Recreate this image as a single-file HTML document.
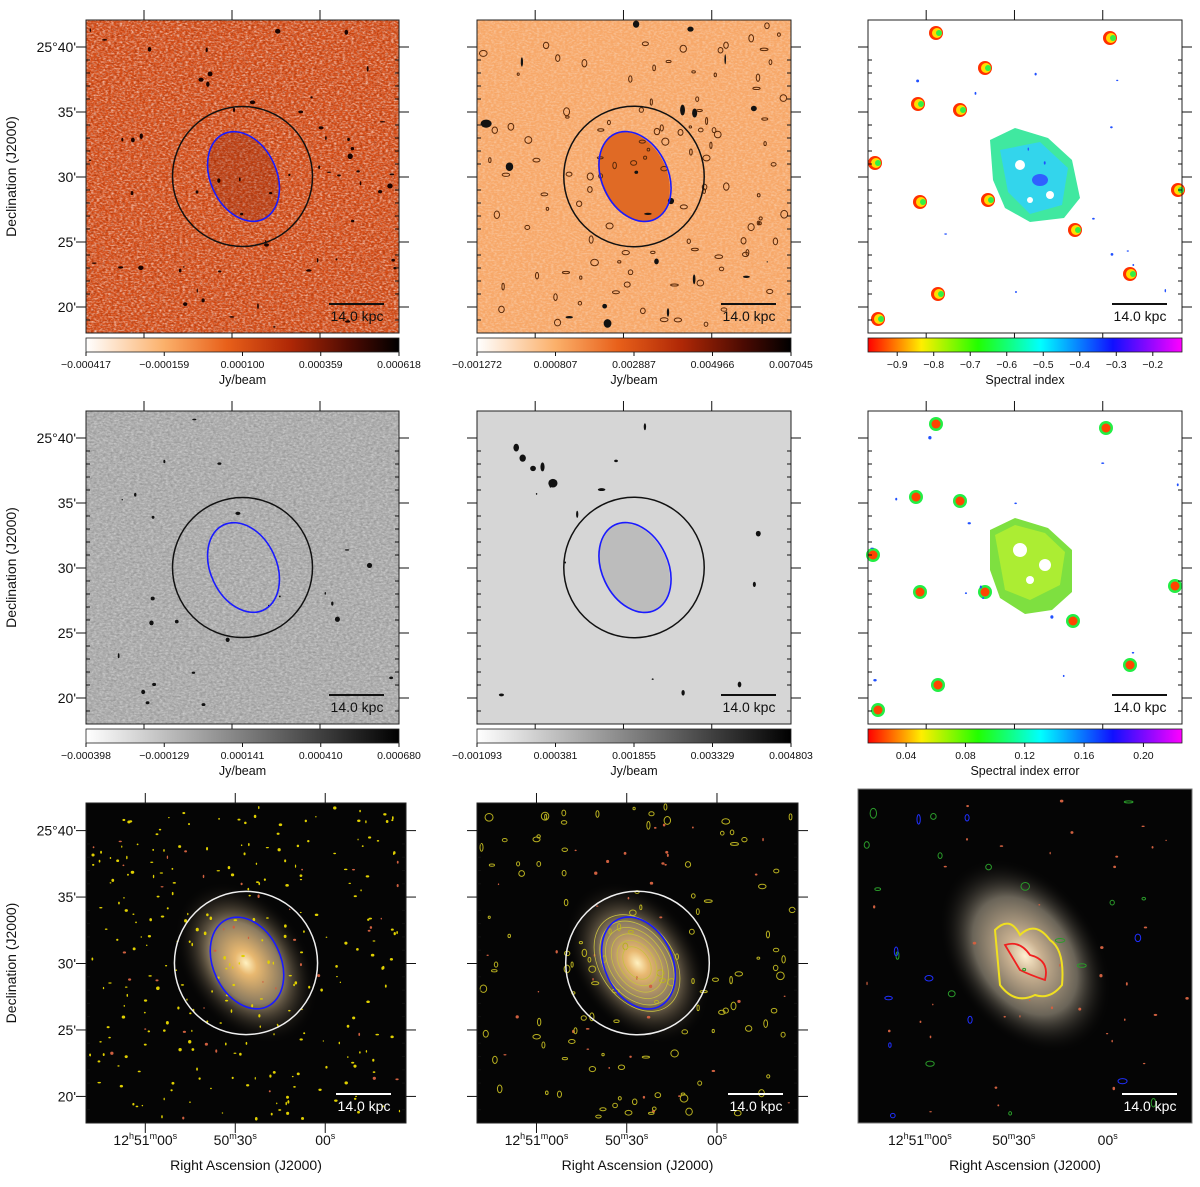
<!DOCTYPE html>
<html><head><meta charset="utf-8"><style>
body{margin:0;background:#fff;width:1200px;height:1182px;overflow:hidden;font-family:"Liberation Sans",sans-serif}
svg text{font-family:"Liberation Sans",sans-serif;fill:#111}
</style></head><body>
<svg id="fig" width="1200" height="1182" viewBox="0 0 1200 1182" xmlns="http://www.w3.org/2000/svg">
<defs>
<linearGradient id="gHot" x1="0" x2="1"><stop offset="0" stop-color="#ffffff"/><stop offset="0.25" stop-color="#fbb06a"/><stop offset="0.45" stop-color="#e8601a"/><stop offset="0.65" stop-color="#b02806"/><stop offset="0.85" stop-color="#4a0a02"/><stop offset="1" stop-color="#000"/></linearGradient>
<linearGradient id="gGray" x1="0" x2="1"><stop offset="0" stop-color="#fff"/><stop offset="1" stop-color="#000"/></linearGradient>
<linearGradient id="gRainbow" x1="0" x2="1"><stop offset="0" stop-color="#ff0000"/><stop offset="0.17" stop-color="#ffee00"/><stop offset="0.35" stop-color="#22ff00"/><stop offset="0.55" stop-color="#00ffff"/><stop offset="0.78" stop-color="#1010ff"/><stop offset="1" stop-color="#ff00ff"/></linearGradient>
<radialGradient id="gGal" cx="0.5" cy="0.5" r="0.5"><stop offset="0" stop-color="#fff1c0"/><stop offset="0.15" stop-color="#e8b870"/><stop offset="0.5" stop-color="#8a7a60"/><stop offset="1" stop-color="#000" stop-opacity="0"/></radialGradient>
<radialGradient id="gGal2" cx="0.5" cy="0.5" r="0.5"><stop offset="0" stop-color="#fff0d0"/><stop offset="0.2" stop-color="#c8b090"/><stop offset="0.6" stop-color="#6a6458"/><stop offset="1" stop-color="#000" stop-opacity="0"/></radialGradient>
<filter id="nz" x="0" y="0" width="100%" height="100%"><feTurbulence type="fractalNoise" baseFrequency="0.35 0.6" numOctaves="2" seed="3"/><feColorMatrix type="matrix" values="0 0 0 0 1  0 0 0 0 1  0 0 0 0 1  1.4 0 0 0 -0.55"/></filter>
<filter id="nzd" x="0" y="0" width="100%" height="100%"><feTurbulence type="fractalNoise" baseFrequency="0.35 0.6" numOctaves="2" seed="7"/><feColorMatrix type="matrix" values="0 0 0 0 0.3  0 0 0 0 0.02  0 0 0 0 0  1.4 0 0 0 -0.6"/></filter>
<filter id="nzg" x="0" y="0" width="100%" height="100%"><feTurbulence type="fractalNoise" baseFrequency="0.3 0.5" numOctaves="2" seed="5"/><feColorMatrix type="matrix" values="0 0 0 0 0.2  0 0 0 0 0.2  0 0 0 0 0.2  1.2 0 0 0 -0.55"/></filter>
</defs>
<g id="root"></g>
</svg>
<script>
const decTicks = ["25°40'", "35'", "30'", "25'", "20'"];
const raTicks = ["12h51m00s", "50m30s", "00s"];
const cbHot1 = ["−0.000417","−0.000159","0.000100","0.000359","0.000618"];
const cbHot2 = ["−0.001272","0.000807","0.002887","0.004966","0.007045"];
const cbGray1 = ["−0.000398","−0.000129","0.000141","0.000410","0.000680"];
const cbGray2 = ["−0.001093","0.000381","0.001855","0.003329","0.004803"];
const specTicks = [-0.9,-0.8,-0.7,-0.6,-0.5,-0.4,-0.3,-0.2];
const specRange = [-0.98,-0.12];
const errTicks = [0.04,0.08,0.12,0.16,0.20];
const errRange = [0.0143,0.226];

const NS="http://www.w3.org/2000/svg";
const root=document.getElementById('root');
function el(tag,attrs,parent,text){const e=document.createElementNS(NS,tag);for(const k in attrs)e.setAttribute(k,attrs[k]);if(text!==undefined)e.textContent=text;(parent||root).appendChild(e);return e;}
let seed=11;function rnd(){seed=(seed*16807)%2147483647;return seed/2147483647;}

const P={
 r1c1:[86,20,313,313],r1c2:[477,20,314,313],r1c3:[868,20,314,313],
 r2c1:[86,411,313,313],r2c2:[477,411,314,313],r2c3:[868,411,314,313],
 r3c1:[86,803,320,320],r3c2:[477,803,321,320],r3c3:[858,789,334,334]};

function panel(name,key,bg){const [x,y,w,h]=P[key];const g=el('g',{},root);
 
 
 el('rect',{x,y,width:w,height:h,fill:bg},g);return g;}

function spots(g,key,n,color,rmax){const [x,y,w,h]=P[key];for(let i=0;i<n;i++){el('ellipse',{cx:x+4+rnd()*(w-8),cy:y+4+rnd()*(h-8),rx:0.6+rnd()*rmax,ry:0.6+rnd()*rmax,fill:color},g);}}
function rings(g,key,n,color,rmax){const [x,y,w,h]=P[key];for(let i=0;i<n;i++){el('ellipse',{cx:x+4+rnd()*(w-8),cy:y+4+rnd()*(h-8),rx:1+rnd()*rmax,ry:1+rnd()*rmax,fill:'none',stroke:color,'stroke-width':1},g);}}

function aperture(g,key,circColor){const [x,y,w,h]=P[key];const cx=x+w*0.50,cy=y+h*0.50;const s=w/313;
 const c=el('circle',{cx,cy,r:70*s,fill:'none',stroke:circColor,'stroke-width':1.5},g);
 
 const e=el('ellipse',{cx:cx+1,cy:cy+0,rx:33*s,ry:47*s,fill:'none',stroke:'#1a1aff','stroke-width':1.6,transform:`rotate(-25 ${cx+1} ${cy})`},g);
 }

function scalebar(g,key,color){const [x,y,w,h]=P[key];const bx=x+w-70,by=y+h-29;
 el('line',{x1:bx,y1:by,x2:bx+55,y2:by,stroke:color,'stroke-width':2},g);
 const t=el('text',{x:bx+28,y:by+17,'font-size':14,'text-anchor':'middle',style:'fill:'+color},g,'14.0 kpc');
 }

function frame(g,key,leftLabels){const [x,y,w,h]=P[key];
 el('rect',{x,y,width:w,height:h,fill:'none',stroke:'#222','stroke-width':1},g);
 const s=h/313;
 const decY=[27,92,157,222,287].map(v=>y+v*s);
 const raX=[58,146,234].map(v=>x+v*w/313);
 decY.forEach((yy,i)=>{el('line',{x1:x-10,y1:yy,x2:x,y2:yy,stroke:'#111'},root);el('line',{x1:x+w,y1:yy,x2:x+w+10,y2:yy,stroke:'#111'},root);
   for(let k=1;k<5;k++){const y2=yy+k*13*s;if(y2<y+h){el('line',{x1:x,y1:y2,x2:x+4,y2:y2,stroke:'#111'},root);el('line',{x1:x+w-4,y1:y2,x2:x+w,y2:y2,stroke:'#111'},root);}}
   if(leftLabels){const t=el('text',{x:x-10,y:yy+5,'font-size':14,'text-anchor':'end'},root,decTicks[i]);}});
 raX.forEach(xx=>{el('line',{x1:xx,y1:y-10,x2:xx,y2:y,stroke:'#111'},root);el('line',{x1:xx,y1:y+h,x2:xx,y2:y+h+10,stroke:'#111'},root);});
 if(leftLabels){const t=el('text',{x:16,y:y+h/2,'font-size':14,'text-anchor':'middle',transform:`rotate(-90 16 ${y+h/2})`},root,'Declination (J2000)');}
}

function raLabels(key){const [x,y,w,h]=P[key];
 const raX=[58,146,234].map(v=>x+v*w/313);
 const parts=[["12","h","51","m","00","s"],["50","m","30","s"],["00","s"]];
 raX.forEach((xx,i)=>{const t=el('text',{x:xx,y:1145,'font-size':14,'text-anchor':'middle'},root);
   
   parts[i].forEach((p,j)=>{el('tspan',j%2?{'font-size':9,dy:-6}:{dy:j?6:0},t,p);});
 });
 const cx=x+w/2;const t=el('text',{x:cx,y:1170,'font-size':14,'text-anchor':'middle'},root,'Right Ascension (J2000)');
 }

function cbarLinear(key,grad,labels,title,yTop){const [x,y,w]=P[key];
 const g=el('g',{},root);
 el('rect',{x,y:yTop,width:w,height:14,fill:`url(#${grad})`,stroke:'#222','stroke-width':0.8},g);
 labels.forEach((l,i)=>{const xx=x+i*w/(labels.length-1);el('line',{x1:xx,y1:yTop+14,x2:xx,y2:yTop+18,stroke:'#111'},g);
  const t=el('text',{x:xx,y:yTop+30,'font-size':10.5,'text-anchor':'middle'},g,l);});
 const t=el('text',{x:x+w/2,y:yTop+46,'font-size':12.5,'text-anchor':'middle'},g,title);}

function cbarValues(key,grad,ticks,range,title,yTop,fmt){const [x,y,w]=P[key];
 const g=el('g',{},root);
 el('rect',{x,y:yTop,width:w,height:14,fill:`url(#${grad})`,stroke:'#222','stroke-width':0.8},g);
 const sx=v=>x+(v-range[0])/(range[1]-range[0])*w;
 ticks.forEach(v=>{const xx=sx(v);el('line',{x1:xx,y1:yTop+14,x2:xx,y2:yTop+18,stroke:'#111'},g);
  const t=el('text',{x:xx,y:yTop+30,'font-size':10.5,'text-anchor':'middle'},g,fmt(v));});
 const t=el('text',{x:x+w/2,y:yTop+46,'font-size':12.5,'text-anchor':'middle'},g,title);}

// Row 1
let g=panel('radio-map-highres-hot','r1c1','#d8501a');
el('rect',{x:86,y:20,width:313,height:313,filter:'url(#nz)'},g);
el('rect',{x:86,y:20,width:313,height:313,filter:'url(#nzd)'},g);
el('ellipse',{cx:243,cy:177,rx:33,ry:47,fill:'#8a2008',opacity:0.3,transform:'rotate(-25 243 177)'},g);
spots(g,'r1c1',60,'#1a0300',2.2);
aperture(g,'r1c1','#111');scalebar(g,'r1c1','#111');frame(g,'r1c1',true);
cbarLinear('r1c1','gHot',cbHot1,'Jy/beam',338);

g=panel('radio-map-lowres-hot','r1c2','#f7a869');
el('rect',{x:477,y:20,width:314,height:313,filter:'url(#nz)',opacity:0.5},g);
el('ellipse',{cx:634,cy:177,rx:33,ry:47,fill:'#e06a25',transform:'rotate(-25 634 177)'},g);
spots(g,'r1c2',20,'#111',5);rings(g,'r1c2',110,'#5a2a0a',3);
aperture(g,'r1c2','#111');scalebar(g,'r1c2','#111');frame(g,'r1c2',false);
cbarLinear('r1c2','gHot',cbHot2,'Jy/beam',338);

g=panel('spectral-index-map','r1c3','#ffffff');
el('path',{d:'M990 140 L1015 128 L1048 138 L1072 160 L1080 198 L1064 218 L1030 222 L1005 208 L993 180 Z',fill:'#40e8a0'},g);
el('path',{d:'M1000 150 L1040 142 L1068 168 L1062 205 L1030 214 L1008 192 Z',fill:'#30d0ff',opacity:0.8},g);
el('ellipse',{cx:1040,cy:180,rx:8,ry:6,fill:'#3060ff'},g);
[[1020,165,5],[1050,195,4],[1030,200,3]].forEach(p=>el('circle',{cx:p[0],cy:p[1],r:p[2],fill:'#fff'},g));
[[936,33],[1110,38],[960,110],[918,104],[875,163],[920,202],[988,200],[1075,230],[1178,190],[1130,274],[938,294],[878,319],[985,68]].forEach(p=>{el('circle',{cx:p[0],cy:p[1],r:7,fill:'#ff3000'},g);el('circle',{cx:p[0]+1,cy:p[1],r:5,fill:'#ffdd00'},g);el('circle',{cx:p[0]+3,cy:p[1],r:3,fill:'#33ee44'},g);});
spots(g,'r1c3',14,'#2050ff',1.2);
scalebar(g,'r1c3','#111');frame(g,'r1c3',false);
cbarValues('r1c3','gRainbow',specTicks,specRange,'Spectral index',338,v=>'−'+Math.abs(v).toFixed(1));

// Row 2
g=panel('radio-map-highres-gray','r2c1','#ababab');
el('rect',{x:86,y:411,width:313,height:313,filter:'url(#nz)',opacity:0.6},g);
el('rect',{x:86,y:411,width:313,height:313,filter:'url(#nzg)'},g);
spots(g,'r2c1',25,'#111',2);
aperture(g,'r2c1','#111');scalebar(g,'r2c1','#111');frame(g,'r2c1',true);
cbarLinear('r2c1','gGray',cbGray1,'Jy/beam',729);

g=panel('radio-map-lowres-gray','r2c2','#d6d6d6');
el('ellipse',{cx:634,cy:568,rx:33,ry:47,fill:'#bcbcbc',transform:'rotate(-25 634 568)'},g);
spots(g,'r2c2',18,'#111',4);
aperture(g,'r2c2','#111');scalebar(g,'r2c2','#111');frame(g,'r2c2',false);
cbarLinear('r2c2','gGray',cbGray2,'Jy/beam',729);

g=panel('spectral-index-error-map','r2c3','#ffffff');
el('path',{d:'M990 530 L1015 518 L1048 528 L1072 550 L1072 592 L1052 610 L1025 614 L1000 598 L990 570 Z',fill:'#7ee040'},g);
el('path',{d:'M995 535 L1015 525 L1045 533 L1065 552 L1060 585 L1030 600 L1005 590 Z',fill:'#b8f030',opacity:0.8},g);
[[1020,550,7],[1045,565,6],[1030,580,4]].forEach(p=>el('circle',{cx:p[0],cy:p[1],r:p[2],fill:'#fff'},g));
[[936,424],[1106,428],[960,501],[916,497],[873,555],[920,592],[985,592],[1073,621],[1175,586],[1130,665],[938,685],[878,710]].forEach(p=>{el('circle',{cx:p[0],cy:p[1],r:7,fill:'#22ee44'},g);el('circle',{cx:p[0],cy:p[1],r:4.5,fill:'#ff4400'},g);});
spots(g,'r2c3',14,'#2050ff',1.2);
scalebar(g,'r2c3','#111');frame(g,'r2c3',false);
cbarValues('r2c3','gRainbow',errTicks,errRange,'Spectral index error',729,v=>v.toFixed(2));

// Row 3
function optical(key,name,grad,sc){const [x,y,w,h]=P[key];const g=panel(name,key,'#050505');
 const cx=x+w*0.5,cy=y+h*0.5;
 el('ellipse',{cx,cy,rx:62*w/320*sc,ry:90*w/320*sc,fill:`url(#${grad})`,transform:`rotate(-35 ${cx} ${cy})`},g);
 spots(g,key,40,'#d06040',1.2);return g;}
g=optical('r3c1','optical-overlay-highres','gGal',1);
spots(g,'r3c1',260,'#e0d000',1.2);
aperture(g,'r3c1','#f0f0f0');scalebar(g,'r3c1','#fff');frame(g,'r3c1',true);raLabels('r3c1');

g=optical('r3c2','optical-overlay-lowres','gGal',1);
rings(g,'r3c2',120,'#b8b020',3);
for(let i=0;i<6;i++)el('ellipse',{cx:637,cy:963,rx:12+i*5,ry:18+i*7,fill:'none',stroke:'#c8c040','stroke-width':0.8,transform:'rotate(-35 637 963)'},g);
aperture(g,'r3c2','#f0f0f0');scalebar(g,'r3c2','#fff');frame(g,'r3c2',false);raLabels('r3c2');

g=optical('r3c3','optical-overlay-spectral','gGal2',1.15);
el('path',{d:'M995 930 Q1010 915 1020 935 Q1035 920 1050 940 Q1065 950 1062 985 Q1050 1000 1035 995 Q1015 1005 1000 985 Z',fill:'none',stroke:'#f0e020','stroke-width':2},g);
el('path',{d:'M1005 945 Q1020 940 1030 955 Q1050 960 1045 980 Q1030 975 1020 970 Z',fill:'none',stroke:'#f02020','stroke-width':1.8},g);
rings(g,'r3c3',18,'#2a9a2a',4);rings(g,'r3c3',10,'#2030ff',4);
scalebar(g,'r3c3','#fff');
const [fx,fy,fw,fh]=P.r3c3;el('rect',{x:fx,y:fy,width:fw,height:fh,fill:'none',stroke:'#777'},g);
raLabels('r3c3');
</script>
</body></html>
